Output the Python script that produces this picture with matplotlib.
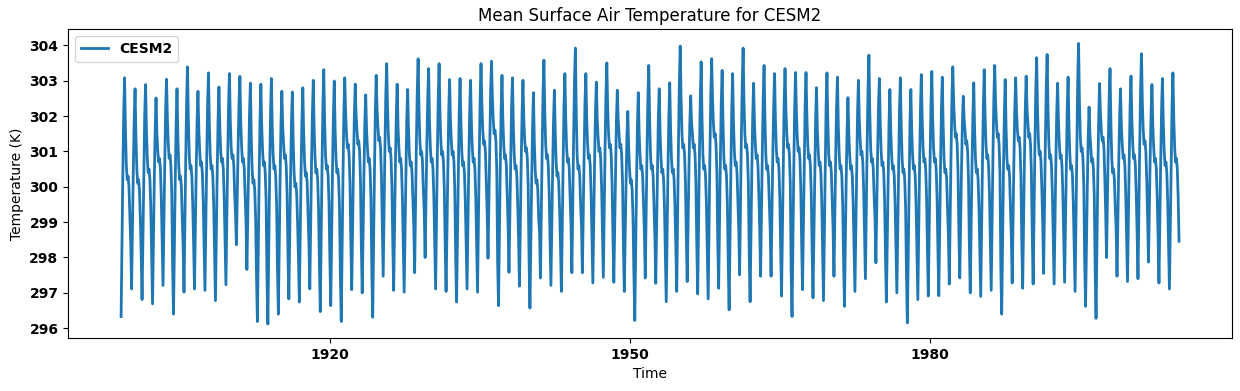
import matplotlib
matplotlib.use('Agg')
import matplotlib.pyplot as plt
import matplotlib.dates as mdates
import numpy as np
import pandas as pd

# monthly mean surface air temperature (K), 12 values per seasonal cycle
tas_1900s = [
    296.33, 298.4, 300.4, 302.1, 303.08, 301.6, 300.6, 300.2, 300.3, 300.0, 299.2, 298.4,
    297.11, 298.8, 300.5, 301.9, 302.77, 301.4, 300.5, 300.1, 300.2, 299.9, 299.1, 298.1,
    296.81, 298.6, 300.5, 302.0, 302.89, 301.6, 300.8, 300.4, 300.5, 300.2, 299.4, 298.0,
    296.69, 298.4, 300.2, 301.6, 302.51, 301.5, 301.0, 300.7, 300.8, 300.5, 299.7, 298.5,
    297.21, 299.0, 300.7, 302.2, 303.04, 301.9, 301.2, 300.8, 300.9, 300.6, 299.8, 297.7,
    296.40, 298.3, 300.2, 301.8, 302.77, 301.4, 300.6, 300.2, 300.3, 300.0, 299.2, 298.3,
    297.02, 298.9, 300.8, 302.4, 303.39, 301.9, 300.9, 300.5, 300.6, 300.3, 299.5, 298.4,
    297.11, 298.8, 300.5, 301.9, 302.70, 301.6, 301.0, 300.6, 300.7, 300.4, 299.6, 298.4,
    297.07, 298.9, 300.8, 302.3, 303.22, 301.8, 300.9, 300.5, 300.6, 300.3, 299.5, 298.1,
    296.78, 298.6, 300.4, 301.9, 302.82, 301.7, 301.0, 300.7, 300.8, 300.5, 299.7, 298.5,
]
tas_1910s = [
    297.23, 299.0, 300.8, 302.3, 303.20, 301.9, 301.1, 300.8, 300.9, 300.6, 299.8, 299.2,
    298.36, 299.8, 301.2, 302.4, 303.12, 301.8, 301.1, 300.7, 300.8, 300.5, 299.7, 299.0,
    297.66, 299.2, 300.8, 302.1, 302.93, 301.4, 300.5, 300.1, 300.2, 299.9, 299.1, 297.5,
    296.19, 298.2, 300.2, 301.9, 302.90, 301.7, 301.0, 300.6, 300.7, 300.4, 299.6, 297.4,
    296.12, 298.2, 300.3, 302.0, 303.06, 301.7, 300.9, 300.5, 300.6, 300.3, 299.5, 297.7,
    296.40, 298.3, 300.2, 301.8, 302.70, 301.7, 301.2, 300.8, 300.9, 300.6, 299.8, 298.1,
    296.83, 298.6, 300.3, 301.8, 302.68, 301.3, 300.4, 300.0, 300.1, 299.8, 299.0, 298.0,
    296.74, 298.6, 300.4, 301.9, 302.80, 301.5, 300.7, 300.3, 300.4, 300.1, 299.3, 298.4,
    297.11, 298.9, 300.7, 302.1, 303.01, 301.6, 300.8, 300.4, 300.5, 300.2, 299.4, 297.8,
    296.47, 298.5, 300.6, 302.3, 303.31, 301.8, 300.9, 300.5, 300.6, 300.3, 299.5, 297.9,
]
tas_1920s = [
    296.64, 298.6, 300.5, 302.0, 302.99, 301.6, 300.8, 300.4, 300.5, 300.2, 299.4, 297.5,
    296.19, 298.3, 300.3, 302.1, 303.08, 302.1, 301.5, 301.1, 301.2, 300.9, 300.1, 298.4,
    297.09, 298.8, 300.6, 302.0, 302.90, 302.0, 301.6, 301.2, 301.3, 301.0, 300.2, 298.3,
    297.00, 298.7, 300.4, 301.8, 302.60, 301.6, 301.1, 300.7, 300.8, 300.5, 299.7, 297.6,
    296.31, 298.4, 300.4, 302.1, 303.15, 302.2, 301.7, 301.3, 301.4, 301.1, 300.3, 298.8,
    297.47, 299.3, 301.1, 302.6, 303.48, 302.2, 301.4, 301.0, 301.1, 300.8, 300.0, 298.4,
    297.07, 298.8, 300.6, 302.0, 302.90, 301.7, 301.1, 300.7, 300.8, 300.5, 299.7, 298.3,
    297.02, 298.7, 300.5, 301.9, 302.75, 301.6, 300.9, 300.6, 300.7, 300.4, 299.6, 298.9,
    297.57, 299.4, 301.2, 302.7, 303.62, 302.2, 301.3, 300.9, 301.0, 300.7, 299.9, 299.3,
    298.00, 299.6, 301.2, 302.5, 303.34, 301.9, 301.1, 300.7, 300.8, 300.5, 299.7, 298.4,
]
tas_1930s = [
    297.11, 299.0, 300.9, 302.5, 303.48, 302.1, 301.3, 300.9, 301.0, 300.7, 299.9, 298.3,
    297.04, 298.8, 300.6, 302.1, 303.03, 301.9, 301.3, 300.9, 301.0, 300.7, 299.9, 298.0,
    296.74, 298.6, 300.5, 302.1, 303.06, 301.8, 301.0, 300.6, 300.7, 300.4, 299.6, 298.4,
    297.11, 298.9, 300.7, 302.1, 303.01, 301.8, 301.1, 300.7, 300.8, 300.5, 299.7, 298.3,
    297.02, 299.0, 300.9, 302.5, 303.48, 302.3, 301.6, 301.2, 301.3, 301.0, 300.2, 299.3,
    297.98, 299.6, 301.3, 302.7, 303.55, 302.5, 301.9, 301.5, 301.6, 301.3, 300.5, 297.9,
    296.64, 298.6, 300.5, 302.2, 303.15, 301.9, 301.2, 300.8, 300.9, 300.6, 299.8, 298.9,
    297.58, 299.2, 300.9, 302.3, 303.08, 301.7, 300.9, 300.5, 300.6, 300.3, 299.5, 298.5,
    297.19, 298.9, 300.7, 302.1, 303.01, 301.9, 301.3, 301.0, 301.1, 300.8, 300.0, 297.9,
    296.57, 298.4, 300.2, 301.7, 302.66, 301.3, 300.5, 300.1, 300.2, 299.9, 299.1, 298.7,
]
tas_1940s = [
    297.42, 299.3, 301.1, 302.7, 303.58, 302.1, 301.2, 300.8, 300.9, 300.6, 299.8, 298.5,
    297.21, 298.9, 300.5, 301.9, 302.73, 301.5, 300.7, 300.3, 300.4, 300.1, 299.3, 298.3,
    297.04, 298.9, 300.7, 302.3, 303.20, 301.9, 301.1, 300.7, 300.8, 300.5, 299.7, 298.9,
    297.57, 299.5, 301.4, 303.0, 303.92, 302.1, 300.9, 300.5, 300.6, 300.3, 299.5, 298.9,
    297.57, 299.3, 300.9, 302.4, 303.20, 301.9, 301.2, 300.8, 300.9, 300.6, 299.8, 298.6,
    297.28, 299.0, 300.7, 302.1, 302.96, 301.9, 301.4, 301.0, 301.1, 300.8, 300.0, 298.7,
    297.44, 299.3, 301.1, 302.6, 303.50, 302.2, 301.5, 301.1, 301.2, 300.9, 300.1, 298.6,
    297.30, 298.9, 300.6, 301.9, 302.73, 301.9, 301.5, 301.1, 301.2, 300.9, 300.1, 298.3,
    297.04, 298.6, 300.1, 301.4, 302.13, 301.1, 300.5, 300.1, 300.2, 299.9, 299.1, 297.5,
    296.22, 298.2, 300.1, 301.7, 302.66, 301.5, 300.9, 300.5, 300.6, 300.3, 299.5, 298.7,
]
tas_1950s = [
    297.42, 299.2, 301.0, 302.5, 303.43, 301.9, 300.9, 300.5, 300.6, 300.3, 299.5, 298.6,
    297.27, 298.9, 300.6, 302.0, 302.77, 301.5, 300.8, 300.4, 300.5, 300.2, 299.4, 298.1,
    296.75, 298.6, 300.5, 302.0, 302.94, 301.6, 300.8, 300.4, 300.5, 300.2, 299.4, 298.3,
    297.04, 299.1, 301.2, 302.9, 303.98, 302.5, 301.5, 301.1, 301.2, 300.9, 300.1, 298.6,
    297.32, 298.9, 300.5, 301.8, 302.57, 301.8, 301.5, 301.1, 301.2, 300.9, 300.1, 298.3,
    296.97, 298.9, 300.9, 302.5, 303.53, 301.9, 300.9, 300.5, 300.6, 300.3, 299.5, 298.1,
    296.83, 298.9, 300.9, 302.6, 303.62, 302.5, 301.8, 301.4, 301.5, 301.2, 300.4, 298.4,
    297.13, 299.0, 300.8, 302.4, 303.29, 301.8, 300.8, 300.5, 300.6, 300.3, 299.5, 297.8,
    296.52, 298.5, 300.5, 302.2, 303.20, 301.8, 301.0, 300.6, 300.7, 300.4, 299.6, 298.8,
    297.51, 299.4, 301.4, 302.9, 303.92, 302.4, 301.5, 301.1, 301.2, 300.9, 300.1, 298.1,
]
tas_1960s = [
    296.75, 298.6, 300.5, 302.0, 302.93, 301.8, 301.2, 300.8, 300.9, 300.6, 299.8, 298.8,
    297.47, 299.3, 301.0, 302.5, 303.43, 301.9, 300.9, 300.5, 300.6, 300.3, 299.5, 298.8,
    297.47, 299.2, 300.9, 302.3, 303.20, 301.9, 301.1, 300.7, 300.8, 300.5, 299.7, 298.2,
    296.91, 298.8, 300.8, 302.4, 303.34, 302.2, 301.5, 301.1, 301.2, 300.9, 300.1, 297.6,
    296.33, 298.4, 300.5, 302.2, 303.23, 302.1, 301.4, 301.0, 301.1, 300.8, 300.0, 298.4,
    297.09, 298.9, 300.8, 302.3, 303.23, 302.0, 301.2, 300.8, 300.9, 300.6, 299.8, 298.2,
    296.86, 298.6, 300.4, 301.9, 302.80, 301.6, 301.0, 300.6, 300.7, 300.4, 299.6, 298.1,
    296.78, 298.7, 300.6, 302.3, 303.22, 301.8, 300.9, 300.6, 300.7, 300.4, 299.6, 298.8,
    297.47, 299.2, 300.9, 302.3, 303.10, 301.7, 300.9, 300.5, 300.6, 300.3, 299.5, 297.9,
    296.62, 298.4, 300.2, 301.6, 302.52, 301.5, 300.9, 300.5, 300.6, 300.3, 299.5, 298.3,
]
tas_1970s = [
    297.04, 298.8, 300.6, 302.1, 303.01, 301.9, 301.3, 300.9, 301.0, 300.7, 299.9, 298.7,
    297.40, 299.3, 301.2, 302.8, 303.72, 302.1, 301.1, 300.7, 300.8, 300.5, 299.7, 299.1,
    297.85, 299.4, 301.0, 302.3, 303.06, 301.8, 301.0, 300.6, 300.7, 300.4, 299.6, 298.0,
    296.74, 298.5, 300.3, 301.8, 302.75, 301.6, 300.9, 300.5, 300.6, 300.3, 299.5, 298.3,
    297.00, 298.8, 300.6, 302.2, 303.08, 301.7, 300.8, 300.4, 300.5, 300.2, 299.4, 297.5,
    296.15, 298.1, 300.1, 301.8, 302.75, 301.6, 300.9, 300.5, 300.6, 300.3, 299.5, 298.1,
    296.81, 298.7, 300.6, 302.2, 303.17, 301.9, 301.1, 300.7, 300.8, 300.5, 299.7, 298.2,
    296.91, 298.8, 300.7, 302.3, 303.26, 301.9, 301.1, 300.7, 300.8, 300.5, 299.7, 298.2,
    296.92, 298.8, 300.6, 302.2, 303.10, 301.7, 300.8, 300.4, 300.5, 300.2, 299.4, 298.6,
    297.25, 299.1, 300.9, 302.5, 303.39, 302.4, 301.8, 301.4, 301.5, 301.2, 300.4, 298.7,
]
tas_1980s = [
    297.42, 299.0, 300.5, 301.8, 302.56, 301.9, 301.6, 301.2, 301.3, 301.0, 300.2, 298.3,
    297.00, 298.8, 300.6, 302.0, 302.94, 301.6, 300.8, 300.4, 300.5, 300.2, 299.4, 298.2,
    296.90, 298.8, 300.7, 302.3, 303.31, 302.0, 301.2, 300.8, 300.9, 300.6, 299.8, 298.4,
    297.07, 299.0, 300.9, 302.5, 303.43, 302.4, 301.8, 301.4, 301.5, 301.2, 300.4, 297.7,
    296.40, 298.4, 300.4, 302.0, 303.03, 301.7, 300.8, 300.5, 300.6, 300.3, 299.5, 298.6,
    297.28, 299.0, 300.8, 302.2, 303.08, 302.1, 301.6, 301.3, 301.4, 301.1, 300.3, 298.4,
    297.13, 298.9, 300.7, 302.2, 303.13, 302.2, 301.8, 301.4, 301.5, 301.2, 300.4, 298.6,
    297.25, 299.2, 301.1, 302.7, 303.65, 302.2, 301.3, 300.9, 301.0, 300.7, 299.9, 298.9,
    297.55, 299.4, 301.3, 302.8, 303.74, 302.2, 301.2, 300.8, 300.9, 300.6, 299.8, 298.6,
    297.25, 299.0, 300.7, 302.1, 302.93, 301.8, 301.2, 300.8, 300.9, 300.6, 299.8, 298.6,
]
tas_1990s = [
    297.30, 299.0, 300.8, 302.2, 303.10, 301.7, 300.9, 300.5, 300.6, 300.3, 299.5, 298.3,
    297.04, 299.1, 301.2, 303.0, 304.05, 302.4, 301.4, 301.0, 301.1, 300.8, 300.0, 297.9,
    296.62, 298.3, 300.0, 301.4, 302.25, 301.5, 301.1, 300.7, 300.8, 300.5, 299.7, 297.6,
    296.28, 298.3, 300.3, 301.9, 302.92, 302.1, 301.6, 301.3, 301.4, 301.1, 300.3, 299.3,
    298.00, 299.6, 301.2, 302.5, 303.34, 301.8, 300.8, 300.4, 300.5, 300.2, 299.4, 298.8,
    297.47, 299.1, 300.7, 302.0, 302.77, 301.7, 301.2, 300.8, 300.9, 300.6, 299.8, 298.6,
    297.32, 299.1, 300.8, 302.3, 303.13, 301.9, 301.2, 300.8, 300.9, 300.6, 299.8, 298.7,
    297.40, 299.3, 301.2, 302.8, 303.76, 302.4, 301.6, 301.2, 301.3, 301.0, 300.2, 299.2,
    297.87, 299.4, 300.9, 302.1, 302.89, 301.7, 301.1, 300.7, 300.8, 300.5, 299.7, 298.6,
    297.28, 299.0, 300.7, 302.2, 303.06, 301.8, 301.0, 300.6, 300.7, 300.4, 299.6, 298.4,
]
tas_last = [
    297.11, 298.9, 300.8, 302.3, 303.22, 301.9, 301.1, 300.7, 300.8, 300.5, 299.7, 298.46,
]

# time stamps as they sit on the reference's date axis
t_start = '1899-02-05'
t_end = '2004-11-25'
tick_years = [1920, 1950, 1980]

tas = np.array(tas_1900s + tas_1910s + tas_1920s + tas_1930s + tas_1940s
               + tas_1950s + tas_1960s + tas_1970s + tas_1980s + tas_1990s + tas_last)
time = pd.date_range(t_start, t_end, periods=len(tas))

fig, ax = plt.subplots(figsize=(12.4, 3.91), dpi=100)
fig.subplots_adjust(left=0.055, right=0.9935, bottom=0.1355, top=0.9246)

ax.plot(time, tas, lw=2, label='CESM2')
ax.set_title('Mean Surface Air Temperature for CESM2')
ax.set_xlabel('Time')
ax.set_ylabel('Temperature (K)')

ax.set_xticks([pd.Timestamp(f'{y}-01-01') for y in tick_years])
ax.xaxis.set_major_formatter(mdates.DateFormatter('%Y'))
for lab in ax.get_xticklabels() + ax.get_yticklabels():
    lab.set_fontweight('bold')

ax.legend(loc='upper left', prop={'weight': 'bold'})

fig.savefig('out.png', dpi=100)
